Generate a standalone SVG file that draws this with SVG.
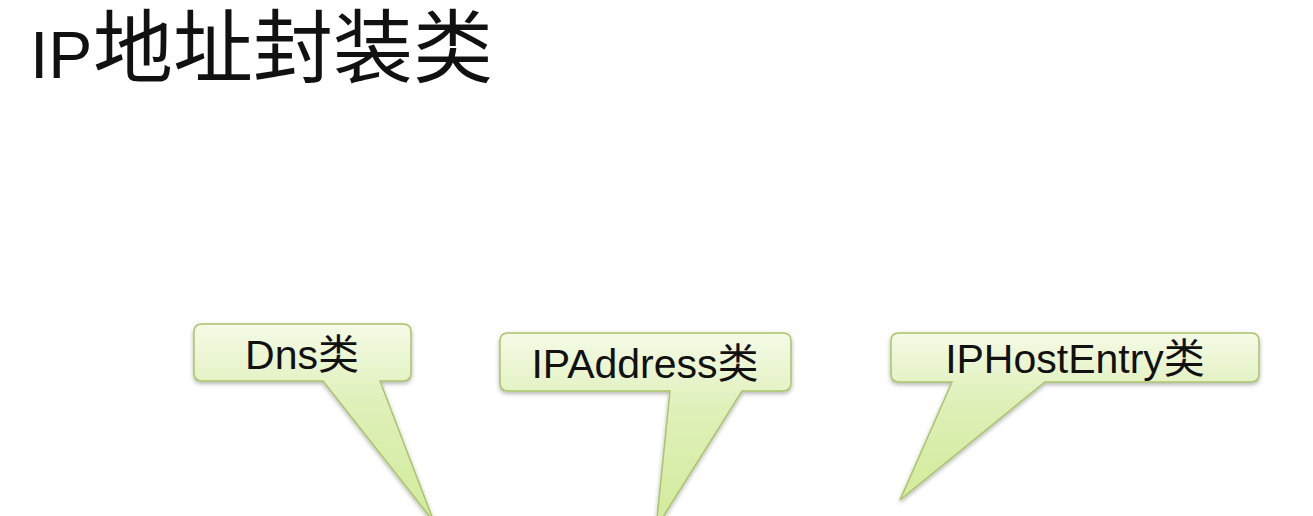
<svg xmlns="http://www.w3.org/2000/svg" width="1313" height="516" viewBox="0 0 1313 516">
  <style>
    .title-latin { font-family: "Liberation Sans", "Noto Sans", sans-serif; font-size: 66px; fill: #111; }
    .title-cjk { font-family: "Noto Sans CJK SC", sans-serif; font-size: 80px; fill: #111; }
    .callout { fill: url(#greenGrad); stroke: #a9c46a; stroke-width: 1.5; filter: url(#shadow); }
    .label { font-family: "Liberation Sans", "Noto Sans CJK SC", sans-serif; font-size: 41px; fill: #111; text-anchor: middle; }
  </style>
  <defs>
    <linearGradient id="greenGrad" x1="0" y1="0" x2="0" y2="1">
      <stop offset="0" stop-color="#f4fae6"/>
      <stop offset="0.4" stop-color="#dff0b9"/>
      <stop offset="1" stop-color="#d2eb9a"/>
    </linearGradient>
    <filter id="shadow" x="-10%" y="-10%" width="120%" height="130%">
      <feDropShadow dx="0" dy="2" stdDeviation="2" flood-color="#000" flood-opacity="0.3"/>
    </filter>
  </defs>
  <rect width="1313" height="516" fill="#ffffff"/>
  <g id="title">
    <text class="title-latin" x="30" y="78">IP</text>
    <text class="title-cjk" x="93" y="76">地址封装类</text>
  </g>
  <g id="connectors"></g>
  <g id="node-dns">
    <path class="callout" d="M202,324 H403 Q411,324 411,332 V373 Q411,381 403,381 H380 L434,522 L323,381 H202 Q194,381 194,373 V332 Q194,324 202,324 Z"/>
    <text class="label" x="302" y="369">Dns类</text>
  </g>
  <g id="node-ipaddress">
    <path class="callout" d="M508,333 H783 Q791,333 791,341 V383 Q791,391 783,391 H742 L656,528 L670,391 H508 Q500,391 500,383 V341 Q500,333 508,333 Z"/>
    <text class="label" x="645" y="378">IPAddress类</text>
  </g>
  <g id="node-iphostentry">
    <path class="callout" d="M899,333 H1251 Q1259,333 1259,341 V374 Q1259,382 1251,382 H1045 L900,500 L952,382 H899 Q891,382 891,374 V341 Q891,333 899,333 Z"/>
    <text class="label" x="1075" y="373">IPHostEntry类</text>
  </g>
</svg>
